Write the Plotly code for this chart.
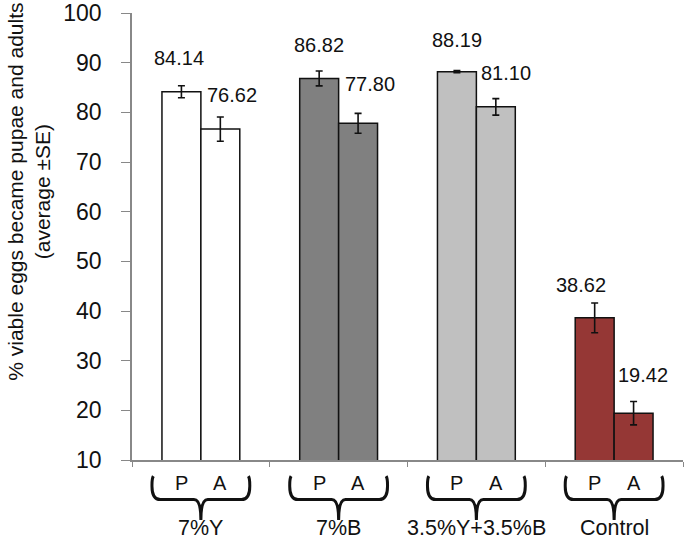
import plotly.graph_objects as go

# ---- data ----
groups = ["7%Y", "7%B", "3.5%Y+3.5%B", "Control"]
stage_names = ["P", "A"]
pupae = [84.14, 86.82, 88.19, 38.62]
adults = [76.62, 77.80, 81.10, 19.42]
pupae_se = [1.2, 1.5, 0.2, 3.0]
adults_se = [2.45, 2.0, 1.67, 2.35]
y_ticks = [10, 20, 30, 40, 50, 60, 70, 80, 90, 100]

# ---- styles ----
group_colors = ["#ffffff", "#808080", "#c0c0c0", "#953735"]
FONT = "Liberation Sans, Arial, sans-serif"
BARGAP = 0.435
half_bar = (1 - BARGAP) / 4  # centre offset of each bar within a group
# label pixel offsets (dx, dy-up) relative to the top of each bar
p_label_shift = [(-2, 34), (0, 33), (0, 32), (-14, 33)]
a_label_shift = [(12, 34), (12, 39), (10, 34), (9, 38)]

xs = list(range(len(groups)))

fig = go.Figure()
for vals, errs in ((pupae, pupae_se), (adults, adults_se)):
    fig.add_trace(go.Bar(
        x=xs, y=vals,
        marker=dict(color=group_colors, line=dict(color="#111111", width=1.5)),
        error_y=dict(type="data", array=errs, visible=True, color="#111111",
                     thickness=1.6, width=3.5),
        showlegend=False, hoverinfo="skip",
    ))

annotations = []
for i in xs:
    for vals, shifts, sgn in ((pupae, p_label_shift, -1), (adults, a_label_shift, 1)):
        annotations.append(dict(
            x=i + sgn * half_bar, y=vals[i], xref="x", yref="y",
            text=f"{vals[i]:.2f}", showarrow=False,
            xshift=shifts[i][0], yshift=shifts[i][1],
            font=dict(family=FONT, size=20, color="#111111"),
        ))
    for sgn, name in zip((-1, 1), stage_names):
        annotations.append(dict(
            x=i + sgn * half_bar, y=-0.0515, xref="x", yref="paper",
            text=name, showarrow=False, yanchor="middle",
            font=dict(family=FONT, size=20, color="#111111"),
        ))
    annotations.append(dict(
        x=i, y=-0.152, xref="x", yref="paper", text=groups[i],
        showarrow=False, yanchor="middle",
        font=dict(family=FONT, size=21.5, color="#111111"),
    ))

annotations.append(dict(
    x=-0.187, y=0.6, xref="paper", yref="paper",
    text="% viable eggs became pupae and adults<br>(average ±SE)",
    textangle=-90, showarrow=False, xanchor="center", yanchor="middle",
    font=dict(family=FONT, size=21, color="#111111"),
))

# curly braces under each group
shapes = []
w = 0.355
y_top, y_bar, y_bot = -0.036, -0.0885, -0.134
r = 0.03
for i in xs:
    x0, x1 = i - w, i + w
    path = (f"M {x0+0.01},{y_top} Q {x0},{y_top-0.005} {x0},{y_top-0.02} "
            f"L {x0},{y_bar+r} Q {x0},{y_bar} {x0+0.06},{y_bar} "
            f"L {i-0.05},{y_bar} Q {i},{y_bar} {i},{y_bot} "
            f"Q {i},{y_bar} {i+0.05},{y_bar} "
            f"L {x1-0.06},{y_bar} Q {x1},{y_bar} {x1},{y_bar+r} "
            f"L {x1},{y_top-0.02} Q {x1},{y_top-0.005} {x1-0.01},{y_top}")
    shapes.append(dict(type="path", path=path, xref="x", yref="paper",
                       line=dict(color="#111111", width=3)))

fig.update_layout(
    width=684, height=543,
    margin=dict(l=132, r=1, t=13, b=83),
    paper_bgcolor="white", plot_bgcolor="white",
    barmode="group", bargap=BARGAP, bargroupgap=0,
    annotations=annotations, shapes=shapes,
    xaxis=dict(range=[-0.5, 3.5], tickvals=[-0.5, 0.5, 1.5, 2.5, 3.5],
               showticklabels=False, ticks="outside", ticklen=5,
               tickcolor="#888888", showline=True, linecolor="#888888",
               linewidth=1.5, showgrid=False, zeroline=False),
    yaxis=dict(range=[10, 100], tickvals=y_ticks, ticks="outside", ticklen=9,
               tickcolor="#888888", showline=True, linecolor="#888888",
               linewidth=1.5, showgrid=False, zeroline=False,
               ticklabelstandoff=15,
               tickfont=dict(family=FONT, size=23, color="#111111")),
)

fig.write_html(
    "out.html",
    config={"displayModeBar": False},
    post_script="document.body.style.margin='0';document.body.style.overflow='hidden';",
)
